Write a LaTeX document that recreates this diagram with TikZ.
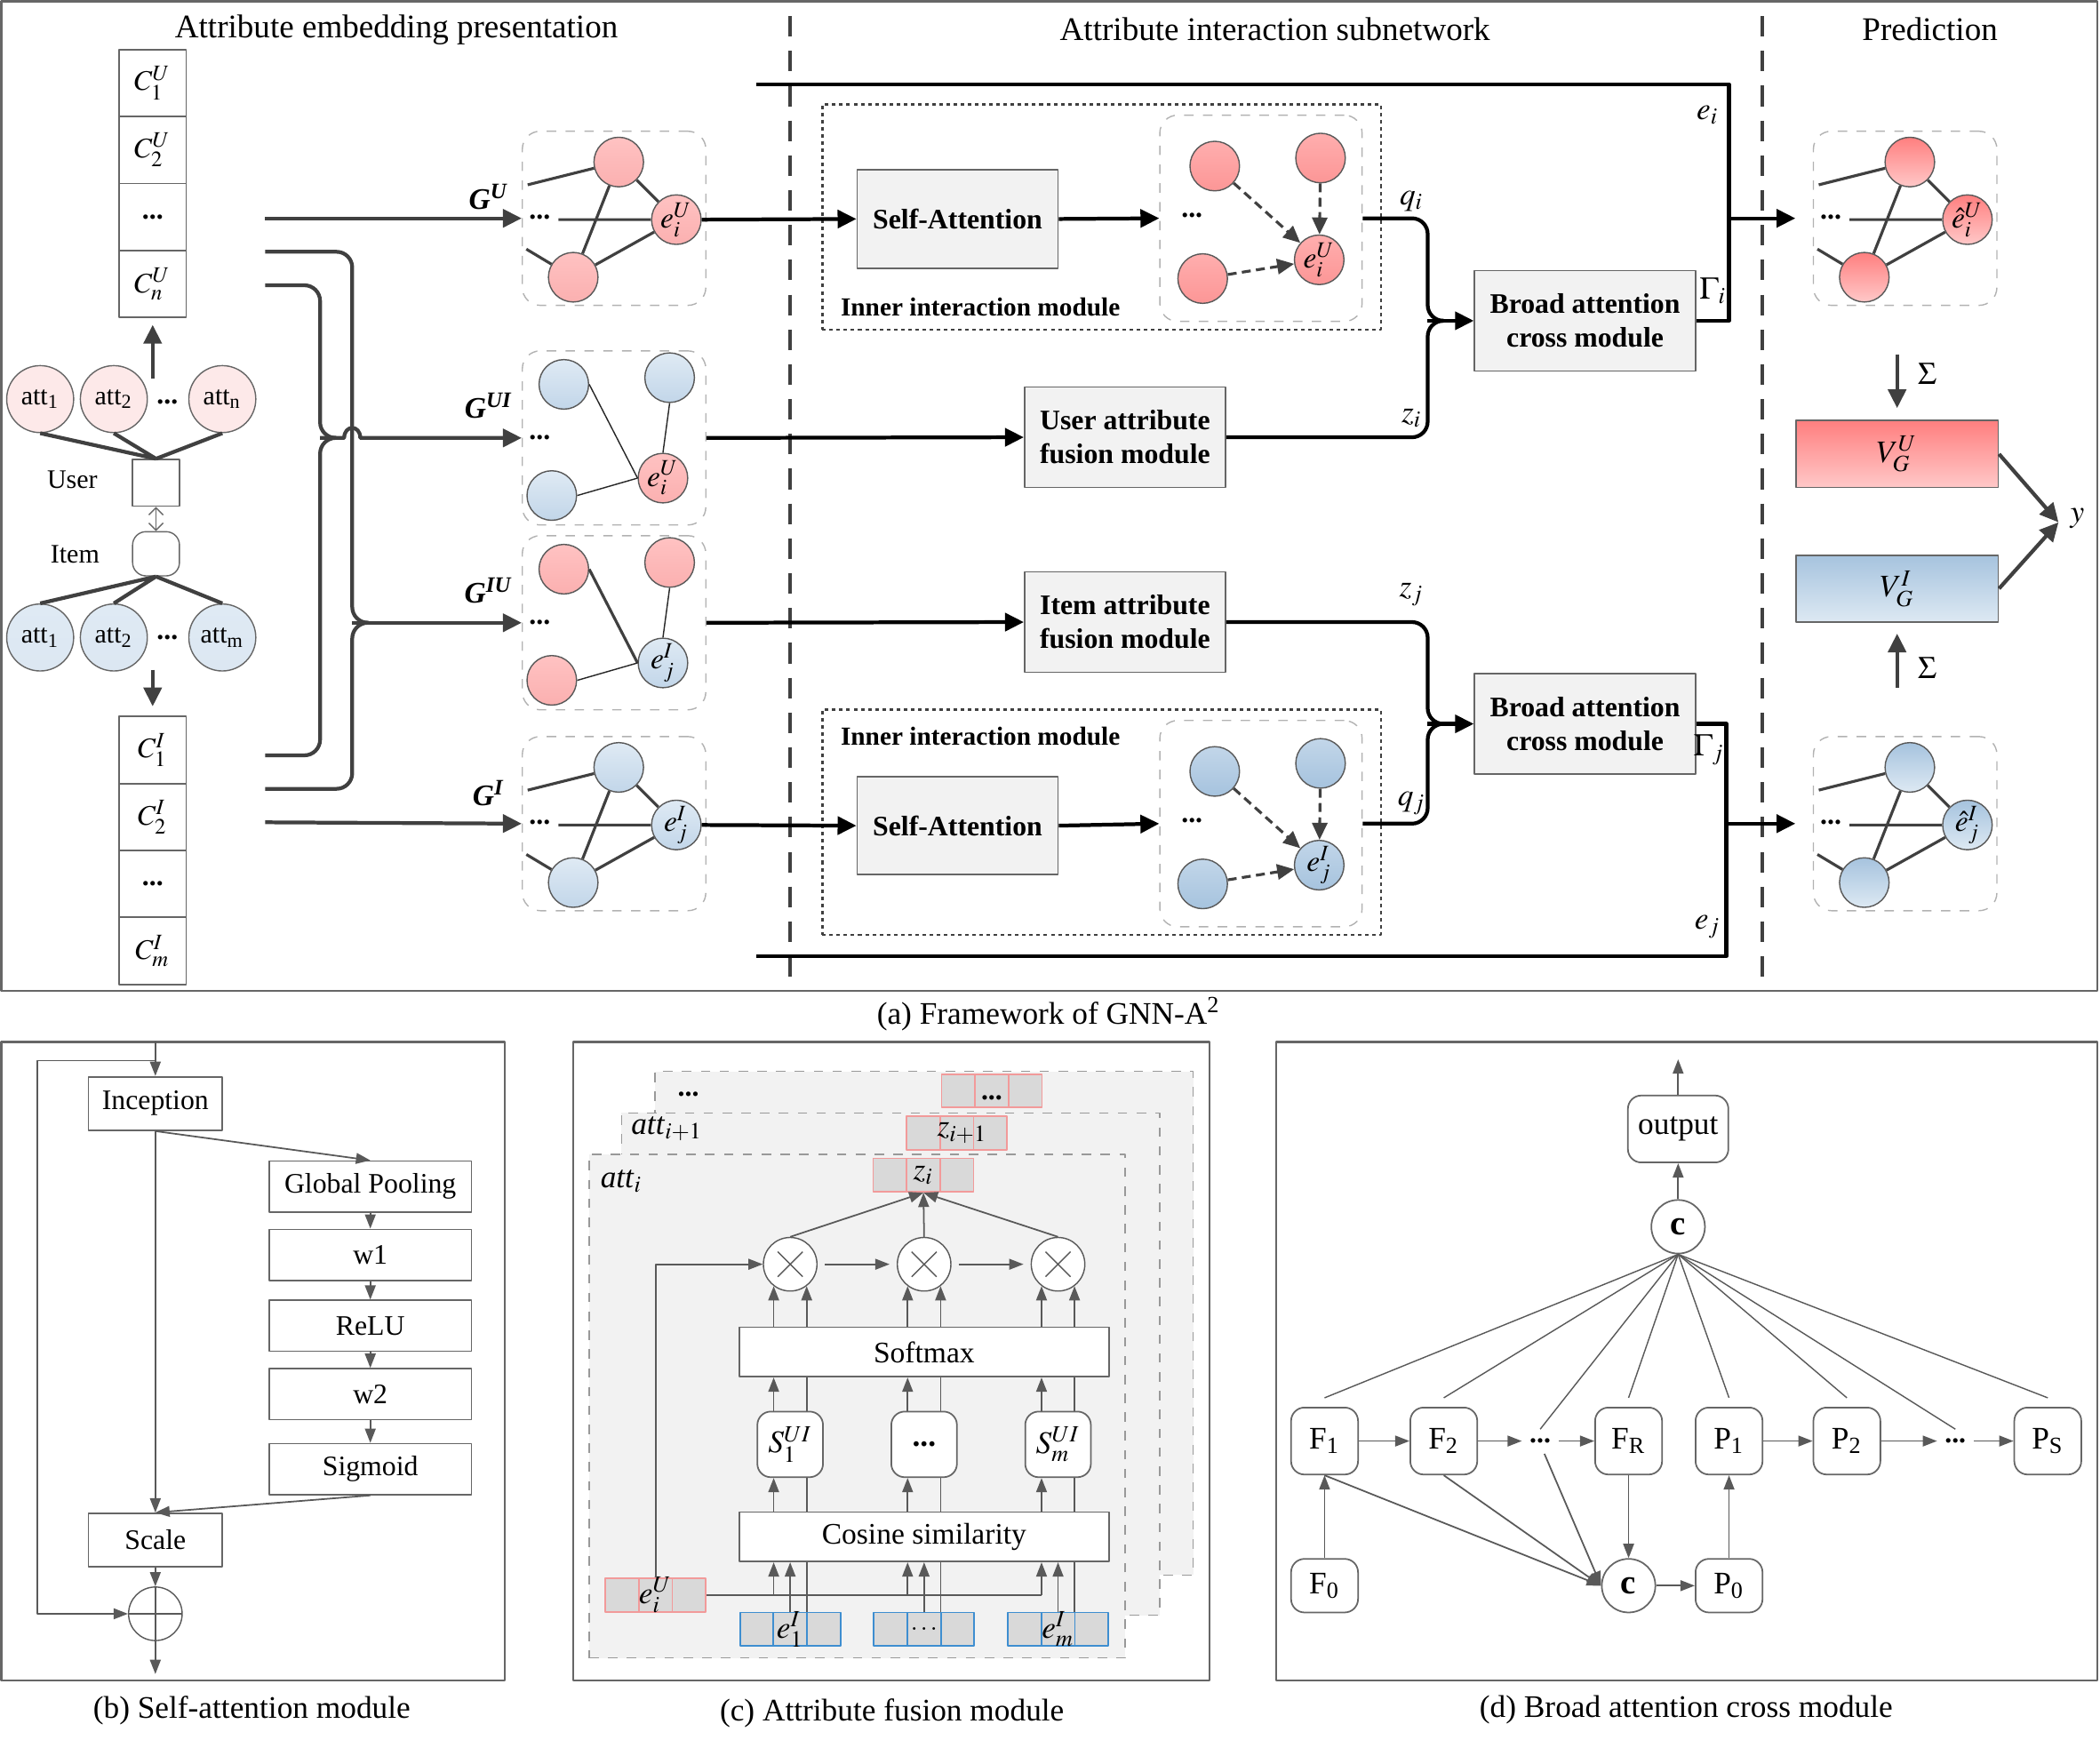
\documentclass[tikz,border=0pt]{standalone}
\usepackage{mathptmx}
\usepackage{fontspec}
\setmainfont{Liberation Serif}
\usetikzlibrary{arrows.meta,calc,positioning}

\definecolor{dgray}{HTML}{404040}
\definecolor{lgray}{HTML}{F2F2F2}
\definecolor{cgray}{HTML}{D9D9D9}
\definecolor{cred}{HTML}{F29A9A}
\definecolor{cblue}{HTML}{3E8ED0}
\definecolor{attpink}{HTML}{FDE9E9}
\definecolor{attblue}{HTML}{DCE7F2}
\definecolor{pinkA}{HTML}{FFC2C2}
\definecolor{pinkAb}{HTML}{FBB0B0}
\definecolor{pinkB}{HTML}{FF7F7F}
\definecolor{pinkBb}{HTML}{FFC8C8}
\definecolor{pinkC}{HTML}{FFAEAE}
\definecolor{pinkCb}{HTML}{FC9696}
\definecolor{blueA}{HTML}{DFEAF4}
\definecolor{blueAb}{HTML}{C2D6E9}
\definecolor{blueB}{HTML}{A6C3DE}
\definecolor{blueBb}{HTML}{DDE9F3}

\newcommand{\bi}[1]{\textbf{\textit{#1}}}

% small graph with a triangle of nodes
\newcommand{\trigraph}[5]{%
\begin{scope}[shift={#2}]
  \node[gbox, minimum width=20.55mm, minimum height=19.5mm] (#1-box) at (68.5,65) {};
  \node[#3] (#1-t) at (72,23) {};
  \node[#4] (#1-e) at (115,66) {#5};
  \node[#3] (#1-b) at (38,109) {};
  \node[gdots] (#1-d) at (13,64) {...};
  \coordinate (#1-s1) at (4,40);
  \coordinate (#1-s2) at (27,66);
  \coordinate (#1-s3) at (3,88);
  \draw[gedge] (#1-s1) -- (#1-t) (#1-t) -- (#1-e) (#1-t) -- (#1-b)
    (#1-s2) -- (#1-e) (#1-s3) -- (#1-b) (#1-b) -- (#1-e);
\end{scope}}

% small graph, three nodes tied to one
\newcommand{\stargraph}[6]{%
\begin{scope}[shift={#2}]
  \node[gbox, minimum width=20.55mm, minimum height=19.5mm] (#1-box) at (68.5,65) {};
  \node[#3] (#1-a) at (31,25) {};
  \node[#3] (#1-c) at (110,20) {};
  \node[#3] (#1-b) at (22,108) {};
  \node[#4] (#1-e) at (105,95) {#5};
  \node[gdots] (#1-d) at (13,65) {...};
  \draw[#6] (#1-a.east) -- (#1-e.west);
  \draw[gthin] (#1-c.south) -- (#1-e.north) (#1-b.east) -- (#1-e.west);
\end{scope}}

% attention graph with dashed arrows
\newcommand{\attgraph}[5]{%
\begin{scope}[shift={#2}]
  \node[gbox, minimum width=22.65mm, minimum height=23.1mm] (#1-box) at (75.5,77) {};
  \node[#3] (#1-a) at (41,38) {};
  \node[#3] (#1-c) at (120,32) {};
  \node[#3] (#1-b) at (32,122) {};
  \node[#4] (#1-e) at (119,108) {#5};
  \node[gdots] (#1-d) at (24,75) {...};
  \draw[datt] (#1-a) -- (#1-e);
  \draw[datt] (#1-c) -- (#1-e);
  \draw[datt] (#1-b) -- (#1-e);
\end{scope}}

\begin{document}
\begin{tikzpicture}[x=0.15mm, y=-0.15mm, line join=round,
  thk/.style={dgray, line width=1.2pt},
  blk/.style={black, line width=1.2pt},
  tipA/.style={-{Triangle[length=2.1mm,width=2mm]}},
  gnode/.style={circle, draw=black!65, line width=0.4pt, minimum size=5.55mm, inner sep=0pt, font=\fontsize{9.5}{9.5}\selectfont},
  pA/.style={gnode, top color=pinkA, bottom color=pinkAb},
  pB/.style={gnode, top color=pinkB, bottom color=pinkBb},
  pC/.style={gnode, top color=pinkC, bottom color=pinkCb},
  bA/.style={gnode, top color=blueA, bottom color=blueAb},
  bB/.style={gnode, top color=blueB, bottom color=blueBb},
  bC/.style={gnode, top color=blueAb, bottom color=blueB},
  gbox/.style={draw=black!30, dashed, rounded corners=2mm, line width=0.4pt},
  gdots/.style={inner sep=0pt, font=\bfseries\fontsize{9}{9}\selectfont},
  gedge/.style={dgray, line width=0.9pt},
  gthin/.style={black!85, line width=0.4pt},
  datt/.style={dgray, line width=0.9pt, dash pattern=on 1mm off 0.6mm, -{Triangle[length=1.9mm,width=1.7mm]}},
  cellC/.style={draw=black!60, line width=0.5pt, minimum size=7.5mm, inner sep=0pt, font=\fontsize{9}{10}\selectfont},
  attP/.style={circle, draw=black!60, line width=0.4pt, fill=attpink, minimum size=7.5mm, inner sep=0pt, font=\fontsize{8.5}{9}\selectfont},
  attB/.style={attP, top color=blueA, bottom color=attblue},
  modbox/.style={draw=black!60, fill=lgray, line width=0.5pt, inner sep=0pt, align=center, font=\bfseries\fontsize{9}{10.7}\selectfont},
  dotbox/.style={draw=dgray, line width=0.7pt, dash pattern=on 0.4mm off 0.4mm},
  modlab/.style={font=\bfseries\fontsize{8.3}{10}\selectfont},
  lab/.style={inner sep=1pt, font=\fontsize{10}{10}\selectfont},
  glab/.style={inner sep=1pt, font=\fontsize{9.5}{10}\selectfont},
  title/.style={font=\fontsize{10.5}{12}\selectfont},
  capt/.style={font=\fontsize{10}{12}\selectfont},
  divider/.style={dgray, line width=1pt, dash pattern=on 2.3mm off 1.6mm},
  vbox/.style={draw=black!60, line width=0.5pt, minimum width=22.65mm, minimum height=7.5mm, font=\fontsize{10}{10}\selectfont},
  frame/.style={draw=black!60, line width=0.6pt},
  sbox/.style={draw=black!60, line width=0.5pt, fill=white, inner sep=0pt, font=\fontsize{9}{11}\selectfont},
  sarr/.style={black!65, line width=0.5pt, -{Triangle[length=1.6mm,width=1.2mm]}},
  layer/.style={draw=black!40, dashed, fill=lgray, line width=0.4pt},
  rcell/.style={draw=cred, fill=cgray, line width=0.5pt, minimum size=3.75mm, inner sep=0pt},
  bcell/.style={draw=cblue, fill=cgray, line width=0.5pt, minimum size=3.75mm, inner sep=0pt},
  ox/.style={circle, draw=black!65, fill=white, line width=0.4pt, minimum size=6mm, inner sep=0pt,
    path picture={\draw[black!65, line width=0.4pt]
      ([shift={(-1.4mm,-1.4mm)}]path picture bounding box.center) -- ([shift={(1.4mm,1.4mm)}]path picture bounding box.center)
      ([shift={(-1.4mm,1.4mm)}]path picture bounding box.center) -- ([shift={(1.4mm,-1.4mm)}]path picture bounding box.center);}},
  oplus/.style={circle, draw=black!65, line width=0.4pt, minimum size=6mm, inner sep=0pt,
    path picture={\draw[black!65, line width=0.4pt]
      (path picture bounding box.north) -- (path picture bounding box.south)
      (path picture bounding box.west) -- (path picture bounding box.east);}},
  wbox/.style={draw=black!60, fill=white, line width=0.5pt, minimum width=41.4mm, minimum height=5.55mm, inner sep=0pt, font=\fontsize{9.5}{11}\selectfont},
  sbx/.style={draw=black!60, fill=white, line width=0.5pt, rounded corners=1.5mm, minimum size=7.35mm, inner sep=0pt, font=\fontsize{10}{11}\selectfont},
  carr/.style={black!65, line width=0.5pt, -{Triangle[length=1.6mm,width=1.2mm]}},
  cline/.style={black!65, line width=0.5pt},
  rbox/.style={draw=black!60, line width=0.5pt, fill=white, rounded corners=1.5mm, minimum width=7.5mm, minimum height=7.5mm, inner sep=0pt, font=\fontsize{10}{12}\selectfont},
  cnode/.style={circle, draw=black!60, line width=0.5pt, fill=white, minimum size=6mm, inner sep=0pt, font=\bfseries\fontsize{11}{12}\selectfont},
  darr/.style={black!65, line width=0.5pt, -{Triangle[length=1.6mm,width=1.2mm]}},
  dline/.style={black!65, line width=0.4pt}]
  \useasboundingbox (0,0) rectangle (1568,1305);

  % ---------- (a) framework ----------
  \draw[frame] (1,1) rectangle (1566,740);
  \draw[divider] (590,12) -- (590,730);
  \draw[divider] (1316,12) -- (1316,730);
  \node[title] (t1) at (296,22) {Attribute embedding presentation};
  \node[title] (t2) at (952,22) {Attribute interaction subnetwork};
  \node[title] (t3) at (1441,22) {Prediction};
  \node[capt] (ca) at (783,757) {(a) Framework of GNN-A\textsuperscript{2}};

  % attribute columns
  \node[cellC] (cu1) at (114,62) {$C_1^U$};
  \node[cellC] (cu2) at (114,112) {$C_2^U$};
  \node[cellC] (cu3) at (114,162) {\textbf{...}};
  \node[cellC] (cu4) at (114,212) {$C_n^U$};
  \node[cellC] (ci1) at (114,560) {$C_1^I$};
  \node[cellC] (ci2) at (114,610) {$C_2^I$};
  \node[cellC] (ci3) at (114,660) {\textbf{...}};
  \node[cellC] (ci4) at (114,710) {$C_m^I$};

  % user and item
  \node[attP] (ua1) at (30,298) {att\textsubscript{1}};
  \node[attP] (ua2) at (85,298) {att\textsubscript{2}};
  \node[attP] (ua3) at (166,298) {att\textsubscript{n}};
  \node[gdots] (uad) at (125,300) {...};
  \node[draw=black!60, line width=0.4pt, minimum size=5.25mm, inner sep=0pt] (user) at (116.5,360.5) {};
  \node[font=\fontsize{8.5}{10}\selectfont] (userl) at (54,358) {User};
  \node[draw=black!60, line width=0.4pt, rounded corners=1.5mm, minimum width=5.25mm, minimum height=4.95mm, inner sep=0pt] (item) at (116.5,413.5) {};
  \node[font=\fontsize{8.5}{10}\selectfont] (iteml) at (56,414) {Item};
  \node[attB] (ia1) at (30,476) {att\textsubscript{1}};
  \node[attB] (ia2) at (85,476) {att\textsubscript{2}};
  \node[attB] (ia3) at (166,476) {att\textsubscript{m}};
  \node[gdots] (iad) at (125,476) {...};
  \draw[thk] (ua1.south) -- (user.north) (ua2.south) -- (user.north) (ua3.south) -- (user.north);
  \draw[thk] (item.south) -- (ia1.north) (item.south) -- (ia2.north) (item.south) -- (ia3.north);
  \draw[black!60, line width=0.4pt, {Straight Barb[length=0.8mm]}-{Straight Barb[length=0.8mm]}] (user) -- (item);
  \coordinate (uarr) at (114,283);
  \coordinate (iarr) at (114,500);
  \draw[thk, tipA] (uarr) -- ($(cu4.south)+(0,5)$);
  \draw[thk, tipA] (iarr) -- ($(ci1.north)+(0,-7)$);

  % graphs
  \trigraph{gu}{(390,98)}{pA}{pA}{$e_i^U$}
  \stargraph{gui}{(390,262)}{bA}{pA}{$e_i^U$}{gthin}
  \stargraph{giu}{(390,400)}{pA}{bA}{$e_j^I$}{gedge}
  \trigraph{gi}{(390,550)}{bA}{bA}{$e_j^I$}
  \node[glab] (lgu) at (365,147) {\bi{G}\textsuperscript{\bi{U}}};
  \node[glab] (lgui) at (365,303) {\bi{G}\textsuperscript{\bi{UI}}};
  \node[glab] (lgiu) at (365,441) {\bi{G}\textsuperscript{\bi{IU}}};
  \node[glab] (lgi) at (365,592) {\bi{G}\textsuperscript{\bi{I}}};

  % wires into the graphs
  \coordinate (src1) at (198,163);
  \coordinate (src2) at (198,188);
  \coordinate (src3) at (198,213);
  \coordinate (src4) at (198,564);
  \coordinate (src5) at (198,589);
  \coordinate (src6) at (198,614);
  \coordinate (jui) at (239,327);
  \coordinate (jiu) at (263,465);
  \draw[thk, tipA] (src1) -- (gu-box.west);
  \draw[thk, tipA] (src6) -- (gi-box.west);
  \draw[thk, rounded corners=5] (src2) -| (jiu) -- ++(9,0);
  \draw[thk, rounded corners=5] (src5) -| (jiu) -- ++(9,0);
  \draw[thk, tipA] (jiu) -- (giu-box.west);
  \draw[thk, rounded corners=5] (src3) -| (jui) -- ++(9,0);
  \draw[thk, rounded corners=5] (src4) -| (jui) -- ++(9,0);
  \draw[thk, tipA] (jui) -- ++(18,0) .. controls +(0,-10) and +(0,-10) .. ++(12,0) -- (gui-box.west);

  % interaction subnetwork
  \node[dotbox, minimum width=62.55mm, minimum height=25.2mm] (iim1) at (822.5,162) {};
  \node[dotbox, minimum width=62.55mm, minimum height=25.2mm] (iim2) at (822.5,614) {};
  \node[modlab] (iim1l) at (732,229) {Inner interaction module};
  \node[modlab] (iim2l) at (732,550) {Inner interaction module};
  \node[modbox, minimum width=22.5mm, minimum height=11mm] (sa1) at (715,163.5) {Self-Attention};
  \node[modbox, minimum width=22.5mm, minimum height=11mm] (sa2) at (715,616.5) {Self-Attention};
  \node[modbox, minimum width=22.5mm, minimum height=11.25mm] (uf) at (840,326.5) {User attribute\\fusion module};
  \node[modbox, minimum width=22.5mm, minimum height=11.25mm] (itf) at (840,464.5) {Item attribute\\fusion module};
  \node[modbox, minimum width=24.75mm, minimum height=11.25mm] (bt) at (1183.5,239.5) {Broad attention\\cross module};
  \node[modbox, minimum width=24.75mm, minimum height=11.25mm] (bb) at (1183.5,540.5) {Broad attention\\cross module};
  \attgraph{ig1}{(866,86)}{pC}{pC}{$e_i^U$}
  \attgraph{ig2}{(866,538)}{bC}{bC}{$e_j^I$}

  \draw[blk, tipA] (gu-e.east) -- (sa1.west);
  \draw[blk, tipA] (sa1.east) -- (ig1-box.west);
  \draw[blk, tipA] (gi-e.east) -- (sa2.west);
  \draw[blk, tipA] (sa2.east) -- (ig2-box.west);
  \draw[blk, tipA] (gui-box.east) -- (uf.west);
  \draw[blk, tipA] (giu-box.east) -- (itf.west);

  \coordinate (jt) at (1066,239.5);
  \coordinate (jb) at (1066,540.5);
  \draw[blk, rounded corners=5] (ig1-box.east) -| (jt) -- ++(9,0);
  \draw[blk, rounded corners=5] (uf.east) -| (jt) -- ++(9,0);
  \draw[blk, tipA] (jt) -- (bt.west);
  \draw[blk, rounded corners=5] (itf.east) -| (jb) -- ++(9,0);
  \draw[blk, rounded corners=5] (ig2-box.east) -| (jb) -- ++(9,0);
  \draw[blk, tipA] (jb) -- (bb.west);

  \coordinate (ei0) at (565,63);
  \coordinate (ej0) at (565,714);
  \coordinate (ji) at (1291,163);
  \coordinate (jj) at (1289,615);
  \draw[blk] (ei0) -| (ji);
  \draw[blk] (bt.east) -| (ji);
  \draw[blk] (ej0) -| (jj);
  \draw[blk] (bb.east) -| (jj);

  \node[lab] (lei) at (1275,86) {$e_i$};
  \node[lab] (lgi) at (1279,217) {$\Gamma_i$};
  \node[lab] (lqi) at (1054,150) {$q_i$};
  \node[lab] (lzi) at (1054,312) {$z_i$};
  \node[lab] (lzj) at (1054,444) {$z_j$};
  \node[lab] (lgj) at (1276,560) {$\Gamma_j$};
  \node[lab] (lqj) at (1054,600) {$q_j$};
  \node[lab] (lej) at (1275,692) {$e_j$};

  % prediction
  \trigraph{pu}{(1354,98)}{pB}{pB}{$\hat{e}_i^U$}
  \trigraph{pb}{(1354,550)}{bB}{bB}{$\hat{e}_j^I$}
  \draw[blk, tipA] (ji) -- ($(pu-box.west)+(-13,0)$);
  \draw[blk, tipA] (jj) -- ($(pb-box.west)+(-13,0)$);
  \node[vbox, top color=pinkB, bottom color=pinkBb] (vu) at (1416.5,339) {$V_G^U$};
  \node[vbox, top color=blueB, bottom color=blueBb] (vi) at (1416.5,439.5) {$V_G^I$};
  \draw[thk, tipA, shorten <=5.4mm, shorten >=1.3mm] (pu-box.south -| vu.north) -- (vu.north);
  \draw[thk, tipA, shorten <=5.4mm, shorten >=1.2mm] (pb-box.north -| vi.south) -- (vi.south);
  \node[lab] (sg1) at (1439,279) {$\Sigma$};
  \node[lab] (sg2) at (1439,499) {$\Sigma$};
  \node[lab] (yout) at (1551,387) {$y$};
  \coordinate (yin) at (1537,390);
  \draw[thk, tipA] (vu.east) -- (yin);
  \draw[thk, tipA] (vi.east) -- (yin);

  % ---------- (b) self-attention module ----------
  \draw[frame] (1,778) rectangle (377,1255);
  \node[capt] (cb) at (188,1277) {(b) Self-attention module};
  \node[sbox, minimum width=15mm, minimum height=6mm] (inc) at (116,824) {Inception};
  \node[sbox, minimum width=22.65mm, minimum height=5.7mm] (gp) at (276.5,886) {Global Pooling};
  \node[sbox, minimum width=22.65mm, minimum height=5.7mm] (w1) at (276.5,937) {w1};
  \node[sbox, minimum width=22.65mm, minimum height=5.7mm] (relu) at (276.5,990) {ReLU};
  \node[sbox, minimum width=22.65mm, minimum height=5.7mm] (w2) at (276.5,1041) {w2};
  \node[sbox, minimum width=22.65mm, minimum height=5.7mm] (sig) at (276.5,1097) {Sigmoid};
  \node[sbox, minimum width=15mm, minimum height=6mm] (scale) at (116,1150) {Scale};
  \node[oplus] (op) at (116,1205) {};
  \coordinate (bin) at (116,778);
  \coordinate (bsk) at (116,792);
  \coordinate (bout) at (116,1250);
  \draw[sarr] (bin) -- (inc.north);
  \draw[sarr] (bsk) -- ++(-88,0) |- (op.west);
  \draw[sarr] (inc.south) -- (scale.north);
  \draw[sarr] (inc.south) -- (gp.north);
  \draw[sarr] (gp) -- (w1);
  \draw[sarr] (w1) -- (relu);
  \draw[sarr] (relu) -- (w2);
  \draw[sarr] (w2) -- (sig);
  \draw[sarr] (sig.south) -- (scale.north);
  \draw[sarr] (scale) -- (op);
  \draw[sarr] (op.south) -- (bout);

  % ---------- (c) attribute fusion module ----------
  \draw[frame] (428,778) rectangle (903,1255);
  \node[capt] (cc) at (666,1279) {(c) Attribute fusion module};
  \node[layer, minimum width=60.3mm, minimum height=56.4mm] (l2) at (690,988) {};
  \foreach \k in {1,2,3} \node[rcell] (zd-\k) at ({690.5+25*\k},814.5) {};
  \node[gdots] (zdl) at ($(zd-2)+(0,5)$) {...};
  \node[gdots] (l2l) at (514,817) {...};
  \node[layer, minimum width=60.3mm, minimum height=56.25mm] (l1) at (665,1018.5) {};
  \foreach \k in {1,2,3} \node[rcell] (zn-\k) at ({664.5+25*\k},846) {};
  \node[lab] (znl) at ($(zn-2)+(4,0)$) {$z_{i+1}$};
  \node[lab] (l1l) at (498,843) {\textit{att}$_{i+1}$};
  \node[layer, minimum width=60mm, minimum height=56.4mm] (l0) at (640,1050) {};
  \foreach \k in {1,2,3} \node[rcell] (zi-\k) at ({639.5+25*\k},877.5) {};
  \node[lab] (zil) at (zi-2) {$z_i$};
  \node[lab] (l0l) at (464,882) {\textit{att}$_i$};
  \foreach \k in {1,2,3} \node[rcell] (eu-\k) at ({439.5+25*\k},1191) {};
  \foreach \m in {1,2,3} {
    \foreach \k in {1,2,3} \node[bcell] (e\m-\k) at ({465+100*\m+25*(\k-1)},1216.5) {};
  }
  \node[lab] (eul) at (eu-2) {$e_i^U$};
  \node[lab] (e1l) at (e1-2) {$e_1^I$};
  \node[font=\fontsize{8}{8}\selectfont, inner sep=0pt] (e2l) at (e2-2) {$\ldots$};
  \node[lab] (e3l) at (e3-2) {$e_m^I$};
  \foreach \k in {1,2,3} \node[ox] (ox\k) at ({490+100*\k},944) {};
  \foreach \k in {1,2,3} \draw[carr] (ox\k.-53 |- e\k-2.north) -- (ox\k.-53);
  \node[wbox] (sm) at (690,1009.5) {Softmax};
  \node[wbox] (cs) at (690,1147.5) {Cosine similarity};
  \node[sbx] (s1) at (590,1078.5) {$S_1^{UI}$};
  \node[sbx] (s2) at (690,1078.5) {\textbf{...}};
  \node[sbx] (s3) at (790,1078.5) {$S_m^{UI}$};
  \draw[carr] (eu-2.north) |- (ox1.west);
  \draw[cline] (eu-3.east) -- (ox3.-127 |- eu-3.east);
  \foreach \k in {1,2,3} {
    \draw[carr] (ox\k.-127 |- eu-3.east) -- (ox\k.-127 |- cs.south);
    \draw[carr] (e\k-2.north) -- (e\k-2.north |- cs.south);
    \draw[carr] (ox\k.-127 |- cs.north) -- (ox\k.-127 |- s\k.south);
    \draw[carr] (ox\k.-127 |- s\k.north) -- (ox\k.-127 |- sm.south);
    \draw[carr] (ox\k.-127 |- sm.north) -- (ox\k.-127);
    \draw[carr] (ox\k.north) -- (zi-2.south);
  }
  \draw[carr, shorten <=0.8mm, shorten >=0.8mm] (ox1) -- (ox2);
  \draw[carr, shorten <=0.8mm, shorten >=0.8mm] (ox2) -- (ox3);

  % ---------- (d) broad attention cross module ----------
  \draw[frame] (953,778) rectangle (1566,1255);
  \node[capt] (cd) at (1259,1277) {(d) Broad attention cross module};
  \node[rbox, minimum width=11.25mm] (out) at (1253,843) {output};
  \node[cnode] (ct) at (1253,916) {c};
  \node[rbox] (f1) at (989,1076) {F\textsubscript{1}};
  \node[rbox] (f2) at (1078,1076) {F\textsubscript{2}};
  \node[gdots] (fd) at (1150,1076) {...};
  \node[rbox] (fr) at (1216,1076) {F\textsubscript{R}};
  \node[rbox] (p1) at (1291,1076) {P\textsubscript{1}};
  \node[rbox] (p2) at (1379,1076) {P\textsubscript{2}};
  \node[gdots] (pd) at (1460,1076) {...};
  \node[rbox] (ps) at (1529,1076) {P\textsubscript{S}};
  \node[rbox, minimum height=6mm] (f0) at (989,1184) {F\textsubscript{0}};
  \node[cnode] (cbot) at (1216,1184) {c};
  \node[rbox, minimum height=6mm] (p0) at (1291,1184) {P\textsubscript{0}};
  \coordinate (dtop) at (1253,791);
  \draw[darr] (out.north) -- (dtop);
  \draw[darr] (ct) -- (out);
  \foreach \n in {f1,f2,fd,fr,p1,p2,pd,ps} \draw[dline] (ct.south) -- ([yshift=1mm]\n.north);
  \draw[darr] (f1) -- (f2);
  \draw[darr, shorten >=0.8mm] (f2) -- (fd);
  \draw[darr, shorten <=0.8mm] (fd) -- (fr);
  \draw[darr] (p1) -- (p2);
  \draw[darr, shorten >=0.8mm] (p2) -- (pd);
  \draw[darr, shorten <=0.8mm] (pd) -- (ps);
  \draw[darr] (f0) -- (f1);
  \draw[darr] (fr) -- (cbot);
  \draw[darr] (cbot) -- (p0);
  \draw[darr] (p0) -- (p1);
  \draw[darr] (f1.south) -- (cbot.west);
  \draw[darr] (f2.south) -- (cbot.west);
  \draw[darr, shorten <=1.2mm] (fd.south) -- (cbot.west);
\end{tikzpicture}
\end{document}
